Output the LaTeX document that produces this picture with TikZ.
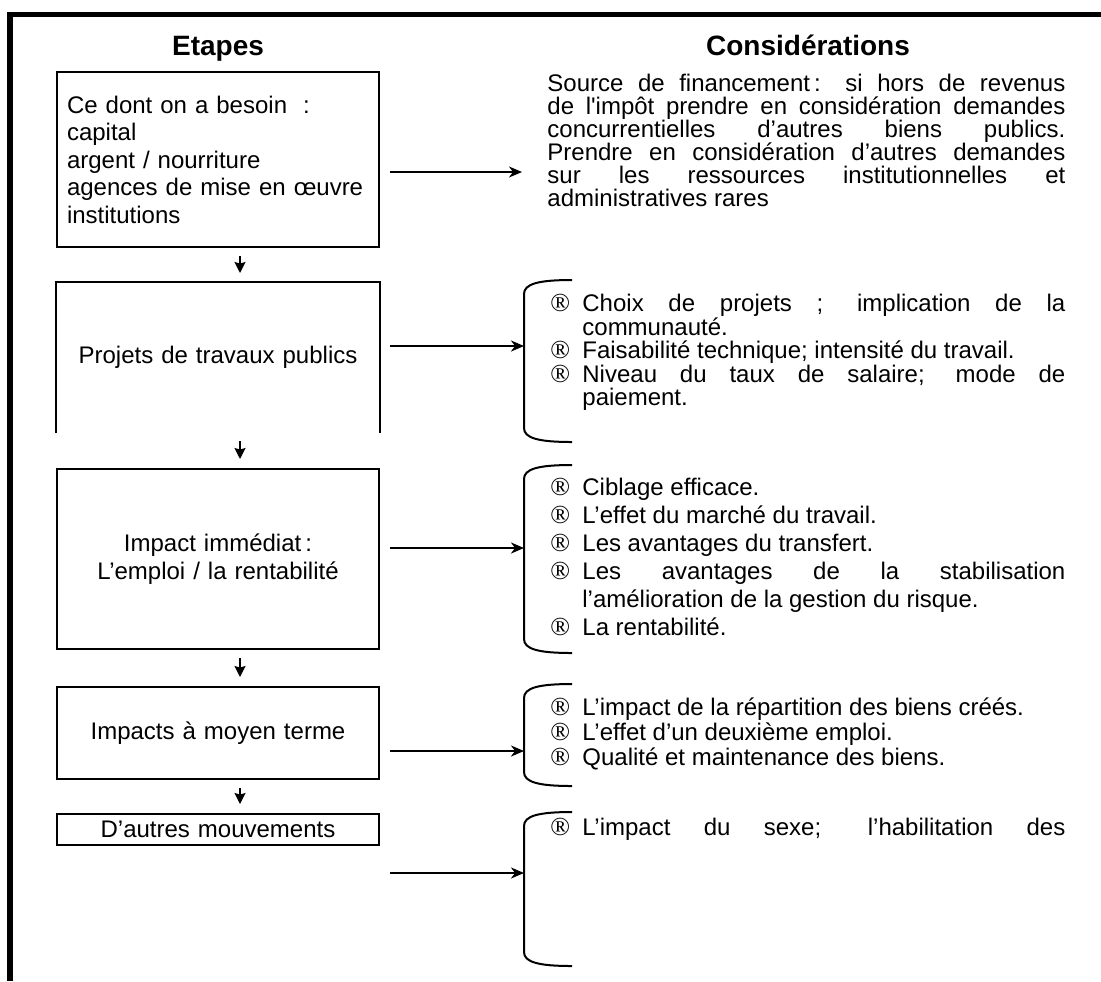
\documentclass[tikz,border=0pt]{standalone}
\usepackage{fontspec}
\setmainfont{Liberation Sans}
\newfontfamily\regfont{Liberation Serif}
\usetikzlibrary{arrows.meta}
\newcommand{\consitem}{\hangindent=17.5pt\hangafter=1\noindent\makebox[17.5pt][l]{\hspace{1.5pt}{\regfont\fontsize{13}{12}\selectfont ®}}}

\begin{document}
\begin{tikzpicture}[
  x=0.5pt, y=-0.5pt,
  title/.style={font=\fontsize{14}{16}\selectfont\bfseries, inner sep=0pt, anchor=base},
  stage/.style={draw, line width=1pt, inner sep=0pt, inner xsep=5pt,
    text width=151pt, minimum width=161pt, align=center,
    font=\fontsize{12}{13.75}\selectfont},
  cons/.style={anchor=north west, inner sep=0pt, text width=259pt, align=justify,
    font=\fontsize{12}{11.5}\selectfont},
  edge/.style={line width=1pt},
  flow/.style={line width=1pt, shorten <=5pt, -{Stealth[length=6.5pt, width=5.5pt, inset=2pt]}},
  down/.style={line width=1pt, -{Stealth[length=5.5pt, width=5.5pt, inset=0.8pt]}},
  brace/.style={line width=1pt},
  frame/.style={line width=2.8pt, line join=miter}
]
\useasboundingbox (0,0) rectangle (1101,981);

% outer frame (top and left only)
\draw[frame] (10,981) -- (10,14.5) -- (1101,14.5);

% column heads
\node[title] (etapes) at (218,55) {Etapes};
\node[title] (considerations) at (808,55) {Considérations};

% left column: the steps
\node[stage, align=left, minimum height=87.5pt] (besoin) at (218,159.5)
  {Ce dont on a besoin\ \ :\\capital\\argent / nourriture\\agences de mise en œuvre\\institutions};
\node[stage, draw=none, minimum height=74.5pt] (projets) at (218,357.5) {Projets de travaux publics};
\draw[edge] (projets.south west) -- (projets.north west) -- (projets.north east) -- (projets.south east);
\node[stage, minimum height=90pt] (impact) at (218,559) {Impact immédiat\,:\\L’emploi / la rentabilité};
\node[stage, minimum height=46pt] (moyen) at (218,733) {Impacts à moyen terme};
\node[stage, minimum height=15.5pt] (autres) at (218,829.5) {D’autres mouvements};

\foreach \a/\b in {besoin/projets, projets/impact, impact/moyen, moyen/autres}
  \draw[down] ([shift={(11pt,-4pt)}]\a.south) -- ([shift={(11pt,4.5pt)}]\b.north);

% right column: the considerations
\node[cons] (srcfin) at (547,74)
  {Source de financement\,: si hors de revenus\linebreak
   de l\textquotesingle impôt prendre en considération demandes\linebreak
   concurrentielles d’autres biens publics.\linebreak
   Prendre en considération d’autres demandes\linebreak
   sur les ressources institutionnelles et\linebreak
   administratives rares\par};

\node[cons, font=\fontsize{12}{11.75}\selectfont] (choix) at (547,294)
  {\consitem Choix de projets ; implication de la\linebreak communauté.\par
   \consitem Faisabilité technique; intensité du travail.\par
   \consitem Niveau du taux de salaire; mode de\linebreak paiement.\par};

\node[cons, font=\fontsize{12}{14}\selectfont] (ciblage) at (547,478)
  {\consitem Ciblage efficace.\par
   \consitem L’effet du marché du travail.\par
   \consitem Les avantages du transfert.\par
   \consitem Les avantages de la stabilisation\linebreak l’amélioration de la gestion du risque.\par
   \consitem La rentabilité.\par};

\node[cons, font=\fontsize{12}{12.5}\selectfont] (repart) at (547,697)
  {\consitem L’impact de la répartition des biens créés.\par
   \consitem L’effet d’un deuxième emploi.\par
   \consitem Qualité et maintenance des biens.\par};

\node[cons] (sexe) at (547,818)
  {\parfillskip=0pt \consitem L’impact du sexe; l’habilitation des\par};

% brackets round the considerations
\foreach \t/\b in {280/442, 465/653, 684/786, 812/966}
  \draw[brace] (572,\t) .. controls (538,\t) and (524,\t+4) .. (524,\t+14)
    -- (524,\b-14) .. controls (524,\b-4) and (538,\b) .. (572,\b);

% arrows from the steps to their considerations
\coordinate (endfin) at (522,172);
\coordinate (endchoix) at (524,346);
\coordinate (endcib) at (524,548);
\coordinate (endrep) at (524,751);
\coordinate (endsexe) at (524,873);
\draw[flow] (besoin.east |- endfin) -- (endfin);
\draw[flow] (projets.east |- endchoix) -- (endchoix);
\draw[flow] (impact.east |- endcib) -- (endcib);
\draw[flow] (moyen.east |- endrep) -- (endrep);
\draw[flow] (autres.east |- endsexe) -- (endsexe);

\end{tikzpicture}
\end{document}
